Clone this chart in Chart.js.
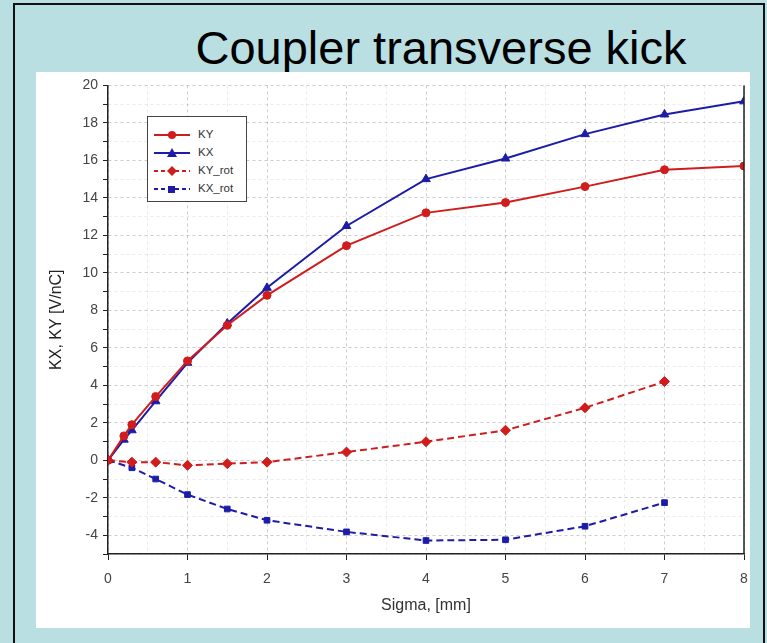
<!DOCTYPE html>
<html>
<head>
<meta charset="utf-8">
<script src="https://cdn.jsdelivr.net/npm/chart.js@4"></script>
<style>
html, body { margin: 0; padding: 0; }
body {
    width: 767px; height: 643px; background: #b9dfe3;
    position: relative; overflow: hidden;
    font-family: "Liberation Sans", Arial, sans-serif;
}
#frame { position: absolute; left: 13px; top: 3px; width: 748px; height: 680px; border: 2px solid #111; }
#title { position: absolute; left: 0; top: 24px; width: 882px; text-align: center; font-size: 47px; line-height: 1; color: #000; }
#panel { position: absolute; left: 36px; top: 72px; width: 714px; height: 556px; background: #fff; }
#legend {
    position: absolute; left: 147px; top: 116px; width: 98px; height: 84px;
    border: 1.5px solid #444; background: #fff; font-size: 11.5px; color: #333;
}
#legend div { position: absolute; left: 6px; height: 14px; line-height: 14px; }
#legend svg { vertical-align: middle; }
#legend span { position: absolute; left: 44px; top: 0; }
</style>
</head>
<body>
<div id="frame"></div>
<div id="title">Coupler transverse kick</div>
<div id="panel"><canvas id="myChart" width="714" height="556"></canvas></div>
<div id="legend"></div>
<script>
// sigma values (mm) and kicks (V/nC)
const sigmaMain = [0, 0.2, 0.3, 0.6, 1, 1.5, 2, 3, 4, 5, 6, 7, 8];
const kyValues = [0, 1.3, 1.9, 3.4, 5.3, 7.2, 8.8, 11.45, 13.2, 13.75, 14.6, 15.5, 15.7];
const kxValues = [0, 1.1, 1.6, 3.15, 5.2, 7.3, 9.2, 12.5, 15.0, 16.1, 17.4, 18.45, 19.15];

const sigmaRot = [0, 0.3, 0.6, 1, 1.5, 2, 3, 4, 5, 6, 7];
const kyRotValues = [0, -0.1, -0.1, -0.27, -0.18, -0.1, 0.44, 0.99, 1.6, 2.8, 4.2];
const kxRotValues = [0, -0.4, -1.0, -1.83, -2.6, -3.2, -3.82, -4.28, -4.24, -3.52, -2.26];

const seriesNames = ['KY', 'KX', 'KY_rot', 'KX_rot'];
const xTicks = [0, 1, 2, 3, 4, 5, 6, 7, 8];
const yTicks = [-4, -2, 0, 2, 4, 6, 8, 10, 12, 14, 16, 18, 20];

const red = '#d01c1c';
const blue = '#1c1ca8';

const pts = (xs, ys) => xs.map((x, i) => ({ x: x, y: ys[i] }));

const styles = [
    { color: red, shape: 'circle', radius: 4, dash: [] },
    { color: blue, shape: 'triangle', radius: 5, dash: [] },
    { color: red, shape: 'rectRot', radius: 5, dash: [7, 4] },
    { color: blue, shape: 'rect', radius: 4, dash: [7, 4] },
];
const seriesData = [
    pts(sigmaMain, kyValues),
    pts(sigmaMain, kxValues),
    pts(sigmaRot, kyRotValues),
    pts(sigmaRot, kxRotValues),
];

const data = {
    datasets: seriesNames.map((name, i) => ({
        label: name,
        data: seriesData[i],
        borderColor: styles[i].color,
        backgroundColor: styles[i].color,
        borderWidth: 2,
        borderDash: styles[i].dash,
        pointStyle: styles[i].shape,
        pointRadius: styles[i].radius,
        pointBorderWidth: 1,
        tension: 0,
    }))
};

// right-hand frame line of the plot
const frameLine = {
    id: 'frameLine',
    afterDraw(chart) {
        const a = chart.chartArea, ctx = chart.ctx;
        ctx.save();
        ctx.strokeStyle = '#222';
        ctx.lineWidth = 1.5;
        ctx.beginPath();
        ctx.moveTo(a.right, a.top);
        ctx.lineTo(a.right, a.bottom);
        ctx.stroke();
        ctx.restore();
    }
};

const tickFont = { family: 'Liberation Sans', size: 14 };

const config = {
    type: 'line',
    data: data,
    plugins: [frameLine],
    options: {
        responsive: false,
        animation: false,
        layout: { padding: { top: 12, right: 3, left: 0, bottom: 0 } },
        plugins: { legend: { display: false }, tooltip: { enabled: false } },
        scales: {
            x: {
                type: 'linear', min: 0, max: 8,
                ticks: {
                    stepSize: 0.5, autoSkip: false, color: '#444', font: tickFont, padding: 11, maxRotation: 0,
                    callback: v => xTicks.includes(v) ? String(v) : ''
                },
                grid: {
                    color: c => Number.isInteger(c.tick.value) ? 'rgba(0,0,0,0.2)' : 'rgba(0,0,0,0.08)',
                    tickColor: c => Number.isInteger(c.tick.value) ? '#222' : 'rgba(0,0,0,0)',
                    tickLength: 6,
                },
                border: { color: '#222', width: 1.5, dash: [3, 3] },
                title: { display: true, text: 'Sigma, [mm]', color: '#333', font: { family: 'Liberation Sans', size: 16 }, padding: { top: 2, bottom: 13 } },
                afterFit: s => { s.height = 74; s.paddingRight = 0; s.paddingLeft = 0; }
            },
            y: {
                min: -5, max: 20,
                ticks: {
                    stepSize: 1, autoSkip: false, color: '#444', font: tickFont, padding: 5,
                    callback: v => yTicks.includes(v) ? String(v) : ''
                },
                grid: {
                    color: c => c.tick.value % 2 === 0 ? 'rgba(0,0,0,0.2)' : 'rgba(0,0,0,0.08)',
                    tickColor: '#222',
                    tickLength: 5,
                },
                border: { color: '#222', width: 1.5, dash: [3, 3] },
                title: { display: true, text: 'KX, KY [V/nC]', color: '#222', font: { family: 'Liberation Sans', size: 16 }, padding: { top: 11, bottom: 0 } },
                afterFit: s => { s.width = 72; }
            }
        }
    }
};

const myChart = new Chart(document.getElementById('myChart'), config);

// legend box in the top-left corner of the plot
const legend = document.getElementById('legend');
const rowTops = [10, 28, 46, 64];
seriesNames.forEach((name, i) => {
    const st = styles[i];
    let mark = '';
    if (st.shape === 'circle') mark = `<circle cx="18" cy="6" r="4" fill="${st.color}"/>`;
    if (st.shape === 'triangle') mark = `<polygon points="18,1 23,10 13,10" fill="${st.color}"/>`;
    if (st.shape === 'rectRot') mark = `<polygon points="18,1 23,6 18,11 13,6" fill="${st.color}"/>`;
    if (st.shape === 'rect') mark = `<rect x="14" y="3" width="7" height="7" fill="${st.color}"/>`;
    const dash = st.dash.length ? 'stroke-dasharray="4 3"' : '';
    const row = document.createElement('div');
    row.style.top = rowTops[i] + 'px';
    row.innerHTML = `<svg width="36" height="12"><line x1="0" y1="6" x2="36" y2="6" stroke="${st.color}" stroke-width="2" ${dash}/>${mark}</svg><span>${name}</span>`;
    legend.appendChild(row);
});
</script>
</body>
</html>
